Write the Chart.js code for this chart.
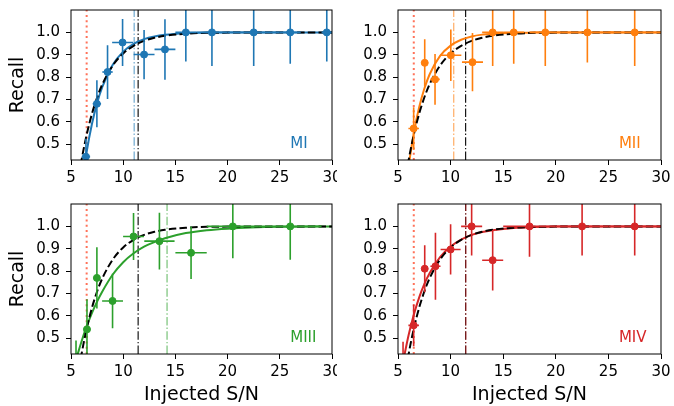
<!DOCTYPE html>
<html>
<head>
<meta charset="utf-8">
<title>Recall vs injected S/N</title>
<script src="https://cdn.jsdelivr.net/npm/chart.js@4.4.0/dist/chart.umd.min.js"></script>
<style>
    body { margin: 0; background: #fff; }
    #wrap { position: relative; width: 674px; height: 406px; }
    canvas { position: absolute; }
</style>
</head>
<body>
<div id="wrap">
    <canvas id="c1" width="337" height="195" style="left:0;top:0"></canvas>
    <canvas id="c2" width="337" height="195" style="left:337px;top:0"></canvas>
    <canvas id="c3" width="337" height="211" style="left:0;top:195px"></canvas>
    <canvas id="c4" width="337" height="211" style="left:337px;top:195px"></canvas>
</div>
<script>
// axis ticks
const xTicks = [5, 10, 15, 20, 25, 30];
const yTicks = [0.5, 0.6, 0.7, 0.8, 0.9, 1.0];

// MI
const miSnr = [6.43, 7.48, 8.5, 9.94, 12.0, 14.0, 16.0, 18.5, 22.5, 26.0, 29.5];
const miRecall = [0.445, 0.681, 0.823, 0.955, 0.901, 0.924, 1.0, 1.0, 1.0, 1.0, 1.0];
const miSnrErr = [0.4, 0.4, 0.5, 1.0, 1.0, 1.0, 1.0, 1.5, 2.5, 1.0, 0.5];
const miRecallErr = [0.08, 0.105, 0.12, 0.105, 0.11, 0.135, 0.13, 0.15, 0.15, 0.14, 0.13];

// MII
const miiSnr = [6.49, 7.54, 8.52, 10.02, 12.08, 14.0, 16.0, 19.0, 23.0, 27.5];
const miiRecall = [0.571, 0.864, 0.79, 0.898, 0.867, 1.0, 1.0, 1.0, 1.0, 1.0];
const miiSnrErr = [0.5, 0.3, 0.45, 1.0, 1.0, 1.0, 1.0, 1.5, 2.5, 2.5];
const miiRecallErr = [0.095, 0.105, 0.113, 0.115, 0.13, 0.15, 0.14, 0.15, 0.135, 0.15];

// MIII
const miiiSnr = [5.48, 6.53, 7.48, 8.98, 10.99, 13.47, 16.5, 20.5, 26.0];
const miiiRecall = [0.39, 0.54, 0.77, 0.667, 0.955, 0.934, 0.882, 1.0, 1.0];
const miiiSnrErr = [0.3, 0.33, 0.3, 1.0, 1.0, 1.45, 1.5, 2.5, 3.0];
const miiiRecallErr = [0.1, 0.135, 0.137, 0.122, 0.105, 0.127, 0.117, 0.142, 0.149];

// MIV
const mivSnr = [5.48, 6.49, 7.54, 8.56, 10.0, 12.0, 14.0, 17.5, 22.5, 27.5];
const mivRecall = [0.39, 0.558, 0.811, 0.822, 0.897, 1.0, 0.849, 1.0, 1.0, 1.0];
const mivSnrErr = [0.3, 0.5, 0.3, 0.48, 0.95, 1.0, 1.0, 2.5, 2.5, 2.5];
const mivRecallErr = [0.095, 0.093, 0.105, 0.15, 0.112, 0.13, 0.135, 0.136, 0.13, 0.13];

// fitted completeness curves
const fitSnr = [5.6, 6, 6.5, 7, 7.5, 8, 9, 10, 11, 12, 13, 14, 16, 18, 20, 25, 30];
const allFit = [0.313, 0.427, 0.543, 0.635, 0.709, 0.768, 0.852, 0.906, 0.940, 0.962, 0.976, 0.985, 0.994, 0.998, 0.999, 1.0, 1.0];
const miFit = [0.149, 0.309, 0.467, 0.590, 0.684, 0.756, 0.855, 0.914, 0.949, 0.970, 0.982, 0.989, 0.996, 0.999, 1.0, 1.0, 1.0];
const miiFit = [0.239, 0.397, 0.549, 0.663, 0.748, 0.812, 0.895, 0.941, 0.967, 0.982, 0.990, 0.994, 0.998, 0.999, 1.0, 1.0, 1.0];
const miiiFit = [0.423, 0.485, 0.553, 0.613, 0.664, 0.709, 0.785, 0.840, 0.880, 0.910, 0.930, 0.947, 0.970, 0.983, 0.990, 0.998, 1.0];
const mivFit = [0.423, 0.513, 0.605, 0.681, 0.742, 0.791, 0.863, 0.910, 0.941, 0.962, 0.975, 0.983, 0.993, 0.997, 0.999, 1.0, 1.0];

// vertical markers
const snrLimit = 6.5;
const allSnr95 = 11.43;
const panelSnr95 = [11.05, 10.3, 14.2, 11.45];

const panelNames = ["MI", "MII", "MIII", "MIV"];
const panelColors = ["#1f77b4", "#ff7f0e", "#2ca02c", "#d62728"];
const panelFadedColors = ["rgba(31,119,180,0.7)", "rgba(255,127,14,0.7)", "rgba(44,160,44,0.7)", "rgba(214,39,40,0.7)"];

const yMin = 0.43;
const yMax = 1.1;
const font = "'DejaVu Sans', sans-serif";

// draw x and y error bars for datasets carrying xErr / yErr
const errorBars = {
    id: "errorBars",
    afterDatasetsDraw(chart) {
        const ctx = chart.ctx;
        const xs = chart.scales.x;
        const ys = chart.scales.y;
        const area = chart.chartArea;
        chart.data.datasets.forEach(ds => {
            if (!ds.xErr) return;
            ctx.save();
            ctx.beginPath();
            ctx.rect(area.left, area.top, area.right - area.left, area.bottom - area.top);
            ctx.clip();
            ctx.strokeStyle = ds.borderColor;
            ctx.lineWidth = 1.6;
            ds.data.forEach((p, i) => {
                const px = xs.getPixelForValue(p.x);
                const py = ys.getPixelForValue(p.y);
                ctx.beginPath();
                ctx.moveTo(xs.getPixelForValue(p.x - ds.xErr[i]), py);
                ctx.lineTo(xs.getPixelForValue(p.x + ds.xErr[i]), py);
                ctx.moveTo(px, ys.getPixelForValue(p.y - ds.yErr[i]));
                ctx.lineTo(px, ys.getPixelForValue(p.y + ds.yErr[i]));
                ctx.stroke();
            });
            ctx.restore();
        });
    }
};

// box around the plot area and the panel name
const frame = {
    id: "frame",
    afterDraw(chart) {
        const ctx = chart.ctx;
        const a = chart.chartArea;
        ctx.save();
        ctx.strokeStyle = "#000";
        ctx.lineWidth = 1;
        ctx.strokeRect(a.left, a.top, a.right - a.left, a.bottom - a.top);
        const o = chart.options.plugins.frame;
        ctx.fillStyle = o.color;
        ctx.font = "15px " + font;
        ctx.textAlign = "left";
        ctx.textBaseline = "middle";
        ctx.fillText(o.name, chart.scales.x.getPixelForValue(26), chart.scales.y.getPixelForValue(0.5));
        ctx.restore();
    }
};

// no extra room for overhanging tick labels, the canvas sizes already allow for it
function noLabelPadding(s) {
    s.paddingTop = 0;
    s.paddingBottom = 0;
    s.paddingLeft = 0;
    s.paddingRight = 0;
}

function vline(x, color, width, dash, order) {
    return {
        type: "line",
        data: [{ x: x, y: yMin }, { x: x, y: yMax }],
        borderColor: color,
        borderWidth: width,
        borderDash: dash,
        pointRadius: 0,
        order: order
    };
}

function makePanel(id, i, snr, recall, snrErr, recallErr, fit, leftCol, bottomRow) {
    const color = panelColors[i];
    const canvasH = bottomRow ? 211 : 195;
    const top = bottomRow ? 9 : 10;
    const plotBottom = bottomRow ? 159 : 160;
    const yWidth = leftCol ? 71 : 61;
    const right = leftCol ? 4 : 13;

    new Chart(document.getElementById(id), {
        type: "scatter",
        data: {
            datasets: [
                {
                    data: snr.map((x, k) => ({ x: x, y: recall[k] })),
                    xErr: snrErr,
                    yErr: recallErr,
                    borderColor: color,
                    backgroundColor: color,
                    pointRadius: 3.5,
                    showLine: false,
                    order: 0
                },
                {
                    type: "line",
                    data: fitSnr.map((x, k) => ({ x: x, y: allFit[k] })),
                    borderColor: "#000",
                    borderWidth: 2,
                    borderDash: [7.5, 3.2],
                    pointRadius: 0,
                    cubicInterpolationMode: "monotone",
                    order: 1
                },
                {
                    type: "line",
                    data: fitSnr.map((x, k) => ({ x: x, y: fit[k] })),
                    borderColor: color,
                    borderWidth: 2,
                    pointRadius: 0,
                    cubicInterpolationMode: "monotone",
                    order: 2
                },
                vline(panelSnr95[i], panelFadedColors[i], 1.1, [8.5, 2.2, 1.4, 2.2], 3),
                vline(allSnr95, "#000", 1.1, [8.5, 2.2, 1.4, 2.2], 4),
                vline(snrLimit, "rgba(255,99,71,0.9)", 2, [2, 3.3], 5)
            ]
        },
        options: {
            responsive: false,
            animation: false,
            layout: { padding: { left: 0, top: top, right: right, bottom: 0 } },
            plugins: {
                legend: { display: false },
                tooltip: { enabled: false },
                frame: { name: panelNames[i], color: color }
            },
            scales: {
                x: {
                    type: "linear",
                    min: 5,
                    max: 30,
                    afterBuildTicks: s => { s.ticks = xTicks.map(v => ({ value: v })); },
                    afterFit: s => { s.height = canvasH - plotBottom; noLabelPadding(s); },
                    ticks: { color: "#000", font: { family: font, size: 15 }, padding: 4, maxRotation: 0, autoSkip: false },
                    grid: { drawOnChartArea: false, tickLength: 5, color: "#000" },
                    border: { display: false },
                    title: {
                        display: bottomRow,
                        text: "Injected S/N",
                        color: "#000",
                        font: { family: font, size: 19, lineHeight: 1 },
                        padding: { top: 0, bottom: 1 }
                    }
                },
                y: {
                    type: "linear",
                    min: yMin,
                    max: yMax,
                    afterBuildTicks: s => { s.ticks = yTicks.map(v => ({ value: v })); },
                    afterFit: s => { s.width = yWidth; noLabelPadding(s); },
                    ticks: { color: "#000", font: { family: font, size: 15 }, padding: 6, callback: v => v.toFixed(1) },
                    grid: { drawOnChartArea: false, tickLength: 5, color: "#000" },
                    border: { display: false },
                    title: {
                        display: leftCol,
                        text: "Recall",
                        color: "#000",
                        font: { family: font, size: 19, lineHeight: 1 },
                        padding: { top: 9, bottom: 0 }
                    }
                }
            }
        },
        plugins: [errorBars, frame]
    });
}

makePanel("c1", 0, miSnr, miRecall, miSnrErr, miRecallErr, miFit, true, false);
makePanel("c2", 1, miiSnr, miiRecall, miiSnrErr, miiRecallErr, miiFit, false, false);
makePanel("c3", 2, miiiSnr, miiiRecall, miiiSnrErr, miiiRecallErr, miiiFit, true, true);
makePanel("c4", 3, mivSnr, mivRecall, mivSnrErr, mivRecallErr, mivFit, false, true);
</script>
</body>
</html>
